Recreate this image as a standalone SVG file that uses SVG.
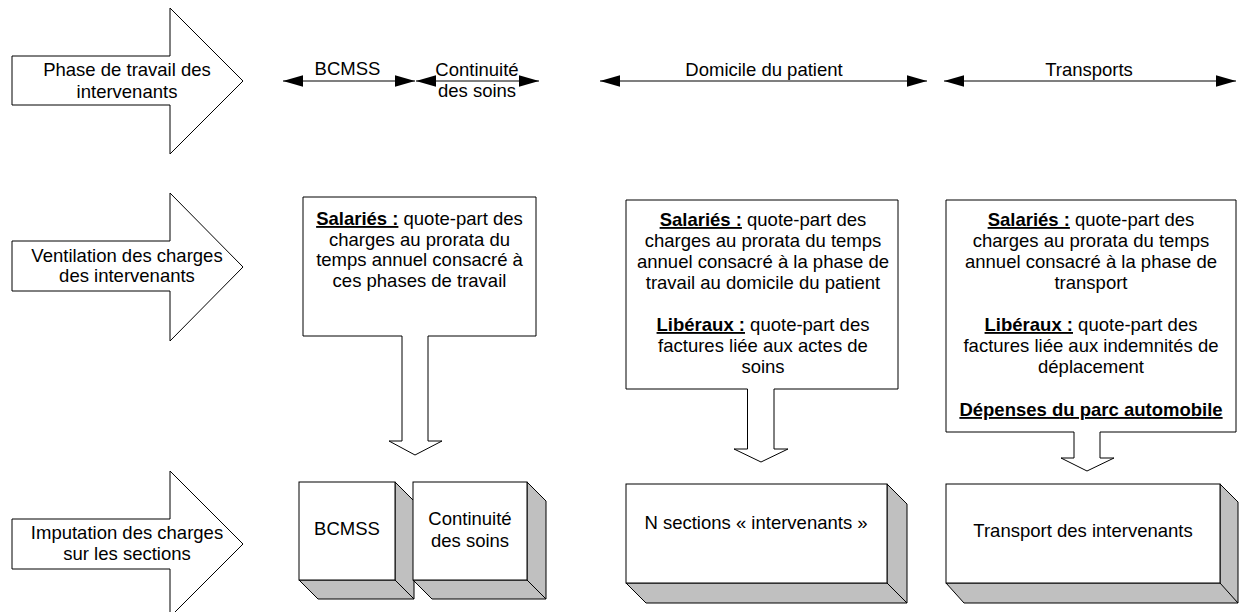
<svg xmlns="http://www.w3.org/2000/svg" width="1239" height="612" viewBox="0 0 1239 612">
<defs>
<style>
text{font-family:"Liberation Sans",Arial,sans-serif;font-size:18.5px;fill:#000}
.m{text-anchor:middle}
.b{font-weight:bold;text-decoration:underline}
.shape{fill:#fff;stroke:#000;stroke-width:1}
.side{fill:#c0c0c0;stroke:#000;stroke-width:1;stroke-linejoin:miter}
.conn{stroke:#000;stroke-width:1.2;fill:none}
</style>
<marker id="ah" markerUnits="userSpaceOnUse" markerWidth="20" markerHeight="12" viewBox="0 0 19 11" refX="19" refY="5.5" orient="auto-start-reverse">
<path d="M0,0 L19,5.5 L0,11 Z" fill="#000"/>
</marker>
</defs>
<rect width="1239" height="612" fill="#fff"/>

<g id="row-phase">
<polygon class="shape" points="12,56 170,56 170,8 243,81 170,154 170,105 12,105"/>
<text class="m" x="127" y="76">Phase de travail des</text>
<text class="m" x="127" y="98">intervenants</text>
</g>
<g id="row-ventilation">
<polygon class="shape" points="12,241 170,241 170,193 243,267 170,341 170,291 12,291"/>
<text class="m" x="127" y="261.5">Ventilation des charges</text>
<text class="m" x="127" y="282">des intervenants</text>
</g>
<g id="row-imputation">
<polygon class="shape" points="12,519 170,519 170,471 243,544 170,617 170,569 12,569"/>
<text class="m" x="127" y="539">Imputation des charges</text>
<text class="m" x="127" y="560">sur les sections</text>
</g>

<g id="connectors">
<line class="conn" x1="283" y1="81" x2="415" y2="81" marker-start="url(#ah)" marker-end="url(#ah)"/>
<line class="conn" x1="416" y1="81" x2="539" y2="81" marker-start="url(#ah)" marker-end="url(#ah)"/>
<line class="conn" x1="600" y1="81" x2="927" y2="81" marker-start="url(#ah)" marker-end="url(#ah)"/>
<line class="conn" x1="944" y1="81" x2="1236" y2="81" marker-start="url(#ah)" marker-end="url(#ah)"/>
</g>

<g id="label-bcmss">
<text class="m" x="347.5" y="75">BCMSS</text>
</g>
<g id="label-continuite">
<text class="m" x="477" y="76">Continuité</text>
<text class="m" x="477" y="97">des soins</text>
</g>
<g id="label-domicile">
<text class="m" x="764" y="76">Domicile du patient</text>
</g>
<g id="label-transports">
<text class="m" x="1089" y="76">Transports</text>
</g>

<g id="callout-bcmss">
<path class="shape" d="M303,197 H536 V336 H428 V441 H442 L415,455 L389,441 H402 V336 H303 Z"/>
<text class="m" x="419.5" y="225"><tspan class="b">Salariés :</tspan> quote-part des</text>
<text class="m" x="419.5" y="245.5">charges au prorata du</text>
<text class="m" x="419.5" y="266">temps annuel consacré à</text>
<text class="m" x="419.5" y="286.5">ces phases de travail</text>
</g>

<g id="callout-domicile">
<path class="shape" d="M626,200 H898 V389 H774 V449 H788 L761,462 L734,449 H747.5 V389 H626 Z"/>
<text class="m" x="763" y="226"><tspan class="b">Salariés :</tspan> quote-part des</text>
<text class="m" x="763" y="247">charges au prorata du temps</text>
<text class="m" x="763" y="268">annuel consacré à la phase de</text>
<text class="m" x="763" y="289">travail au domicile du patient</text>
<text class="m" x="763" y="331"><tspan class="b">Libéraux :</tspan> quote-part des</text>
<text class="m" x="763" y="352">factures liée aux actes de</text>
<text class="m" x="763" y="373">soins</text>
</g>

<g id="callout-transports">
<path class="shape" d="M946,200 H1236 V432 H1100 V458 H1114 L1087,471 L1061,458 H1074 V432 H946 Z"/>
<text class="m" x="1091" y="226"><tspan class="b">Salariés :</tspan> quote-part des</text>
<text class="m" x="1091" y="247">charges au prorata du temps</text>
<text class="m" x="1091" y="268">annuel consacré à la phase de</text>
<text class="m" x="1091" y="289">transport</text>
<text class="m" x="1091" y="331"><tspan class="b">Libéraux :</tspan> quote-part des</text>
<text class="m" x="1091" y="352">factures liée aux indemnités de</text>
<text class="m" x="1091" y="373">déplacement</text>
<text class="m b" x="1091" y="416">Dépenses du parc automobile</text>
</g>

<g id="section-bcmss">
<polygon class="side" points="395,482 414,501 414,599 395,580"/>
<polygon class="side" points="299,580 395,580 414,599 318,599"/>
<rect class="shape" x="299" y="482" width="96" height="98"/>
<text class="m" x="347" y="535">BCMSS</text>
</g>

<g id="section-continuite">
<polygon class="side" points="527,482 546,501 546,599 527,580"/>
<polygon class="side" points="413,580 527,580 546,599 432,599"/>
<rect class="shape" x="413" y="482" width="114" height="98"/>
<text class="m" x="470" y="525">Continuité</text>
<text class="m" x="470" y="547">des soins</text>
</g>

<g id="section-intervenants">
<polygon class="side" points="887,484 907,504 907,603 887,583"/>
<polygon class="side" points="626,583 887,583 907,603 646,603"/>
<rect class="shape" x="626" y="484" width="261" height="99"/>
<text class="m" x="756" y="529">N sections « intervenants »</text>
</g>

<g id="section-transport">
<polygon class="side" points="1220,484 1238,502 1238,603 1220,585"/>
<polygon class="side" points="946,583 1220,583 1238,603 964,603"/>
<rect class="shape" x="946" y="484" width="274" height="99"/>
<text class="m" x="1083" y="537">Transport des intervenants</text>
</g>
</svg>
